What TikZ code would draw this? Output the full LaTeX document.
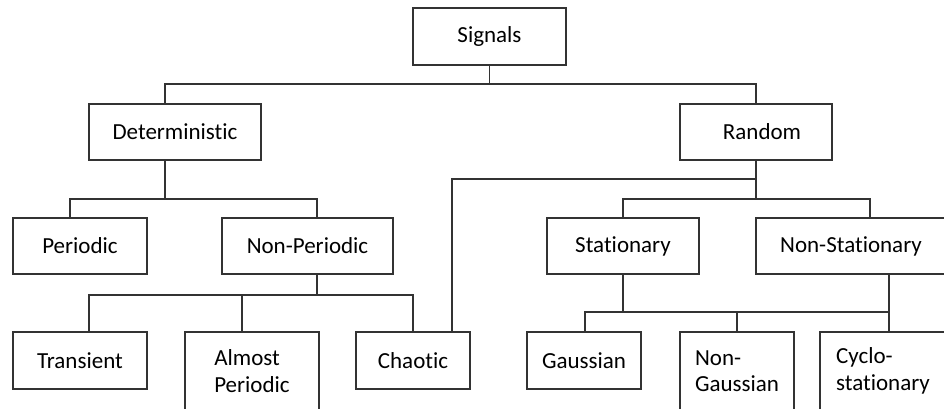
\documentclass[tikz,border=0pt]{standalone}
\usepackage{fontspec}
\setmainfont[Ligatures={NoCommon}]{Carlito}
\begin{document}
\begin{tikzpicture}[x=1pt,y=-1pt,
  box/.style={draw=black!80,line width=1.6pt,fill=white,inner sep=0pt,align=left,
    font=\fontsize{23}{26.5}\selectfont},
  conn/.style={draw=black!80,line width=1.6pt}]
\useasboundingbox (0,0) rectangle (944,408);
\clip (0,0) rectangle (944,408);
% nodes
\node[box,minimum width=153,minimum height=57] (sig) at (489.5,36.5) {Signals};
\node[box,minimum width=172,minimum height=56] (det) at (175,132) {Deterministic};
\node[box,minimum width=152,minimum height=56] (ran) at (756,132) {\hspace*{12pt}Random};
\node[box,minimum width=134,minimum height=56] (per) at (80,246) {Periodic};
\node[box,minimum width=171,minimum height=56] (np) at (307.5,246) {Non-Periodic};
\node[box,minimum width=152,minimum height=56] (sta) at (623,246) {Stationary};
\node[box,minimum width=190,minimum height=56] (ns) at (851,246) {Non-Stationary};
\node[box,minimum width=134,minimum height=57] (tra) at (80,360.5) {Transient};
\node[box,minimum width=134,minimum height=78] (alm) at (252,371) {Almost\\Periodic};
\node[box,minimum width=114,minimum height=57] (cha) at (413,360.5) {Chaotic};
\node[box,minimum width=114,minimum height=57] (gau) at (584,360.5) {Gaussian};
\node[box,minimum width=114,minimum height=78] (ngau) at (737,371) {Non-\\Gaussian};
\node[box,minimum width=126,minimum height=78] (cyc) at (883,371) {Cyclo-\\stationary};
% bus coordinates
\coordinate (b1) at (489.5,84);
\coordinate (b2) at (165,199);
\coordinate (b3) at (317,295);
\coordinate (b4) at (756,199);
\coordinate (b5) at (756,179);
\coordinate (b6) at (623,312);
% connectors
\draw[conn] (sig.south) -- (b1);
\draw[conn] ([xshift=-10pt]det.north) |- (b1) -| (ran.north);
\draw[conn] ([xshift=-10pt]det.south) -- (b2);
\draw[conn] ([xshift=-10pt]per.north) |- (b2) -| ([xshift=9.5pt]np.north);
\draw[conn] ([xshift=9.5pt]np.south) -- (b3);
\draw[conn] ([xshift=9pt]tra.north) |- (b3) -| (cha.north);
\draw[conn] ([xshift=-10pt]alm.north) -- ([xshift=-10pt]alm.north |- b3);
\draw[conn] (ran.south) -- (b4);
\draw[conn] ([xshift=39pt]cha.north) |- (b5);
\draw[conn] (sta.north) |- (b4) -| ([xshift=19pt]ns.north);
\draw[conn] (sta.south) -- (b6);
\draw[conn] ([xshift=1pt]gau.north) |- (b6) -| ([xshift=38pt]ns.south);
\draw[conn] ([xshift=38pt]ns.south) -- ([xshift=6pt]cyc.north);
\draw[conn] (ngau.north) -- (ngau.north |- b6);
\end{tikzpicture}
\end{document}
